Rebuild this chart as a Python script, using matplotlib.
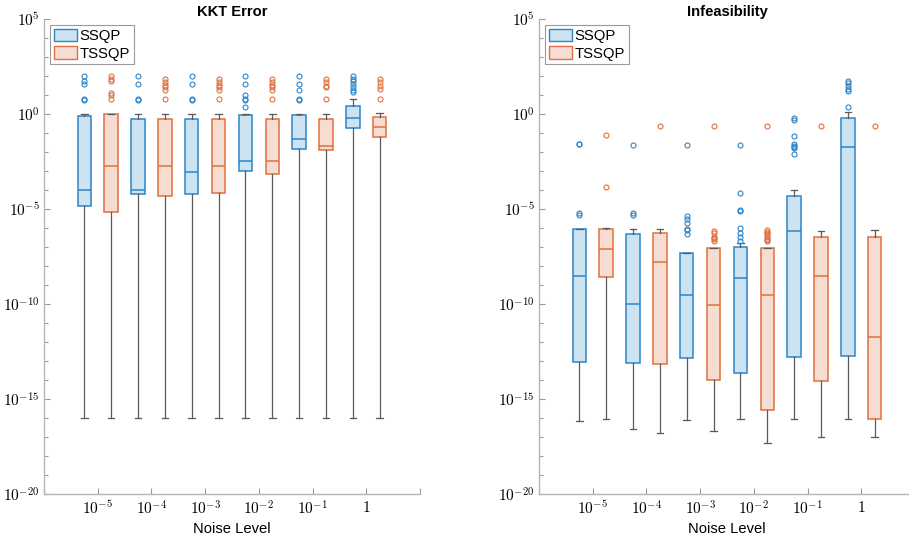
import numpy as np
import matplotlib
matplotlib.use('Agg')
import matplotlib.pyplot as plt
from matplotlib.patches import Patch

plt.rcParams['font.family'] = ['Liberation Sans', 'DejaVu Sans']
plt.rcParams['mathtext.fontset'] = 'cm'

# noise levels (x categories)
levels = ['$10^{-5}$', '$10^{-4}$', '$10^{-3}$', '$10^{-2}$', '$10^{-1}$', '$1$']

# --- KKT Error, log10 of box statistics ---
kkt_ssqp_lo = [-16.0, -16.0, -16.0, -16.0, -16.0, -16.0]
kkt_ssqp_q1 = [-4.84, -4.23, -4.19, -3.0, -1.86, -0.75]
kkt_ssqp_med = [-4.02, -4.02, -3.07, -2.49, -1.32, -0.23]
kkt_ssqp_q3 = [-0.1, -0.28, -0.26, -0.07, -0.07, 0.40]
kkt_ssqp_hi = [0.0, 0.0, 0.0, 0.0, 0.0, 0.77]
kkt_ssqp_out = [[2.0, 1.72, 1.58, 0.77, 0.74],
                [2.0, 1.58, 0.77, 0.74],
                [2.0, 1.58, 0.77, 0.74],
                [2.0, 1.58, 1.0, 0.77, 0.74, 0.35],
                [2.0, 1.58, 1.26, 0.79, 0.74],
                [2.0, 1.86, 1.72, 1.58, 1.44, 1.26, 1.16]]

kkt_tssqp_lo = [-16.0, -16.0, -16.0, -16.0, -16.0, -16.0]
kkt_tssqp_q1 = [-5.17, -4.32, -4.18, -3.18, -1.89, -1.23]
kkt_tssqp_med = [-2.75, -2.75, -2.75, -2.49, -1.68, -0.70]
kkt_tssqp_q3 = [0.0, -0.26, -0.26, -0.26, -0.26, -0.18]
kkt_tssqp_hi = [0.0, 0.0, 0.0, 0.0, 0.0, 0.04]
kkt_tssqp_out = [[2.0, 1.86, 1.72, 1.09, 1.0, 0.77],
                 [1.83, 1.68, 1.54, 1.40, 1.26, 0.77],
                 [1.83, 1.68, 1.54, 1.40, 1.26, 0.77],
                 [1.83, 1.68, 1.54, 1.40, 1.26, 0.77],
                 [1.83, 1.68, 1.47, 1.40, 0.77],
                 [1.83, 1.68, 1.47, 1.33, 0.77]]

# --- Infeasibility, log10 of box statistics ---
inf_ssqp_lo = [-16.16, -16.6, -16.09, -16.04, -16.04, -16.04]
inf_ssqp_q1 = [-13.05, -13.09, -12.84, -13.65, -12.77, -12.74]
inf_ssqp_med = [-8.54, -9.98, -9.54, -8.65, -6.14, -1.74]
inf_ssqp_q3 = [-6.05, -6.33, -7.33, -7.02, -4.3, -0.19]
inf_ssqp_hi = [-6.05, -6.04, -7.33, -6.81, -4.0, 0.09]
inf_ssqp_out = [[-5.22, -5.3, -1.56, -1.6],
                [-5.22, -5.3, -1.61],
                [-5.37, -5.51, -5.72, -6.04, -6.1, -6.32, -1.61],
                [-4.14, -5.05, -5.1, -6.02, -6.25, -6.46, -6.67, -1.61],
                [-0.23, -0.32, -1.16, -1.58, -1.67, -1.74, -1.81, -2.1],
                [1.75, 1.61, 1.47, 1.33, 1.19, 0.35]]

inf_tssqp_lo = [-16.04, -16.8, -16.68, -17.3, -17.0, -17.0]
inf_tssqp_q1 = [-8.6, -13.14, -14.02, -15.6, -14.07, -16.04]
inf_tssqp_med = [-7.09, -7.79, -10.07, -9.54, -8.54, -11.74]
inf_tssqp_q3 = [-6.05, -6.28, -7.07, -7.07, -6.46, -6.49]
inf_tssqp_hi = [-6.02, -6.04, -7.07, -7.07, -6.16, -6.12]
inf_tssqp_out = [[-3.86, -1.1],
                 [-0.63],
                 [-6.14, -6.28, -6.46, -6.53, -6.6, -6.67, -0.63],
                 [-6.11, -6.21, -6.28, -6.39, -6.49, -6.56, -6.63, -6.7, -0.63],
                 [-0.63],
                 [-0.63]]

blue_edge, blue_face = '#2d86c9', '#cce3f2'
orange_edge, orange_face = '#e0703f', '#f7dcd1'
whisk = '#5a5a5a'


def make_stats(lo, q1, med, q3, hi, out):
    stats = []
    for i in range(len(med)):
        stats.append({'whislo': 10 ** lo[i], 'q1': 10 ** q1[i], 'med': 10 ** med[i],
                      'q3': 10 ** q3[i], 'whishi': 10 ** hi[i],
                      'fliers': 10 ** np.array(out[i])})
    return stats


def draw(ax, stats, pos, edge, face):
    ax.bxp(stats, positions=pos, widths=0.25, capwidths=0.12, patch_artist=True,
           manage_ticks=False,
           boxprops=dict(facecolor=face, edgecolor=edge, linewidth=1.1),
           medianprops=dict(color=edge, linewidth=1.1),
           whiskerprops=dict(color=whisk, linewidth=0.9),
           capprops=dict(color=whisk, linewidth=0.9),
           flierprops=dict(marker='o', markerfacecolor='none', markeredgecolor=edge,
                           markersize=3.6, markeredgewidth=0.8))


fig = plt.figure(figsize=(9.09, 5.4), dpi=100)
ax1 = fig.add_axes([44 / 909, 46 / 540, 376 / 909, 475 / 540])
ax2 = fig.add_axes([539 / 909, 46 / 540, 376 / 909, 475 / 540])

x = np.arange(1, len(levels) + 1)
panels = [
    (ax1, 'KKT Error',
     make_stats(kkt_ssqp_lo, kkt_ssqp_q1, kkt_ssqp_med, kkt_ssqp_q3, kkt_ssqp_hi, kkt_ssqp_out),
     make_stats(kkt_tssqp_lo, kkt_tssqp_q1, kkt_tssqp_med, kkt_tssqp_q3, kkt_tssqp_hi, kkt_tssqp_out)),
    (ax2, 'Infeasibility',
     make_stats(inf_ssqp_lo, inf_ssqp_q1, inf_ssqp_med, inf_ssqp_q3, inf_ssqp_hi, inf_ssqp_out),
     make_stats(inf_tssqp_lo, inf_tssqp_q1, inf_tssqp_med, inf_tssqp_q3, inf_tssqp_hi, inf_tssqp_out)),
]

for ax, title, s_ssqp, s_tssqp in panels:
    ax.set_yscale('log')
    draw(ax, s_ssqp, x - 0.25, blue_edge, blue_face)
    draw(ax, s_tssqp, x + 0.25, orange_edge, orange_face)
    ax.set_xlim(0, 7)
    ax.set_ylim(1e-20, 1e5)
    ax.set_xticks(np.arange(0, 8))
    ax.set_xticklabels([''] + levels + [''], fontsize=11)
    major = [1e5, 1e0, 1e-5, 1e-10, 1e-15, 1e-20]
    ax.set_yticks(major)
    ax.set_yticklabels(['$10^{5}$', '$10^{0}$', '$10^{-5}$', '$10^{-10}$',
                        '$10^{-15}$', '$10^{-20}$'], fontsize=11)
    ax.set_yticks([10.0 ** k for k in range(-20, 6) if k % 5], minor=True)
    ax.yaxis.set_minor_formatter(plt.NullFormatter())
    ax.tick_params(which='both', direction='in', color='#9a9a9a', length=4, width=0.8)
    ax.tick_params(which='minor', length=3)
    ax.tick_params(axis='x', pad=4)
    ax.tick_params(axis='y', pad=3)
    for sp in ['top', 'right']:
        ax.spines[sp].set_visible(False)
    for sp in ['left', 'bottom']:
        ax.spines[sp].set_color('#b5b5b5')
        ax.spines[sp].set_linewidth(1.0)
    ax.set_title(title, fontsize=10.6, fontweight='bold', pad=2)
    ax.set_xlabel('Noise Level', fontsize=10.6, labelpad=3)
    handles = [Patch(facecolor=blue_face, edgecolor=blue_edge, label='SSQP'),
               Patch(facecolor=orange_face, edgecolor=orange_edge, label='TSSQP')]
    leg = ax.legend(handles=handles, loc='upper left', fontsize=10.7, fancybox=False,
                    framealpha=1, edgecolor='#9a9a9a', borderaxespad=0.4,
                    handlelength=1.6, handleheight=0.95, borderpad=0.25,
                    labelspacing=0.2, handletextpad=0.15)
    leg.get_frame().set_linewidth(0.8)

plt.savefig('out.png', dpi=100)
